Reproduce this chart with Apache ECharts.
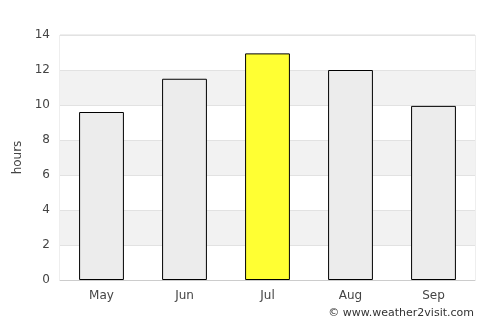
<!DOCTYPE html>
<html>
<head>
<meta charset="utf-8">
<script src="https://cdn.jsdelivr.net/npm/echarts@6/dist/echarts.min.js"></script>
<style>
  html, body { margin: 0; padding: 0; background: #fff; }
  #chart { width: 500px; height: 325px; }
</style>
</head>
<body>
<div id="chart"></div>
<script>
  var months = ['May', 'Jun', 'Jul', 'Aug', 'Sep']
  var hours = [9.6, 11.5, 12.95, 12.0, 9.95]
  var highlight = 'Jul'

  var chart = echarts.init(document.getElementById('chart'))
  var font = 'DejaVu Sans'

  var option = {
    animation: false,
    textStyle: { fontFamily: font },
    grid: { left: 60, right: 25, top: 35, bottom: 45, show: true, borderColor: '#dddddd', borderWidth: 1, backgroundColor: 'transparent' },
    xAxis: {
      type: 'category',
      data: months,
      axisLine: { lineStyle: { color: '#cccccc' } },
      axisTick: { show: false },
      axisLabel: { color: '#444', fontSize: 12, margin: 10, fontFamily: font }
    },
    yAxis: {
      type: 'value',
      min: 0,
      max: 14,
      interval: 2,
      name: 'hours',
      nameLocation: 'middle',
      nameGap: 34,
      nameTextStyle: { color: '#444', fontSize: 12, fontFamily: font },
      axisLine: { show: false },
      axisTick: { show: false },
      axisLabel: { color: '#444', fontSize: 12, margin: 10, fontFamily: font },
      splitLine: { lineStyle: { color: '#e2e2e2' } },
      splitArea: { show: true, areaStyle: { color: ['#ffffff', '#f2f2f2'] } }
    },
    series: [{
      type: 'bar',
      barWidth: '54%',
      data: hours.map(function (v, i) {
        return {
          value: v,
          itemStyle: { color: months[i] === highlight ? '#ffff33' : '#ececec' }
        }
      }),
      itemStyle: { borderColor: '#000', borderWidth: 1 }
    }],
    graphic: [{
      type: 'text',
      right: 26,
      top: 308,
      style: { text: '© www.weather2visit.com', fill: '#333', font: '11px "DejaVu Sans"' }
    }]
  }

  chart.setOption(option)
</script>
</body>
</html>
